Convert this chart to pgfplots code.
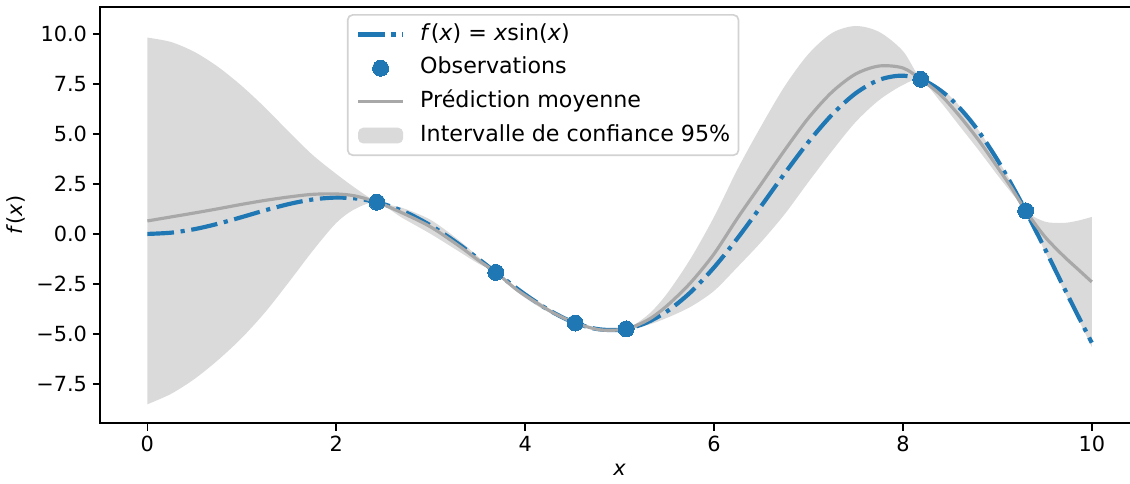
\documentclass[border=0pt]{standalone}
\usepackage{fontspec}
\setmainfont{DejaVu Sans}
\usepackage{pgfplots}
\pgfplotsset{compat=1.18}
\usepackage{pgfplotstable}
\usepgfplotslibrary{fillbetween}

\definecolor{tabblue}{RGB}{31,119,180}
\definecolor{meangray}{RGB}{168,168,168}
\definecolor{bandgray}{RGB}{218,218,218}
\definecolor{legframe}{RGB}{210,210,210}

\pgfplotsset{
    lineleg/.style={legend image code/.code={\draw[##1] (0pt,0pt) -- (27pt,0pt);}},
    markleg/.style={legend image code/.code={\draw[##1] plot coordinates {(13.5pt,0pt)};}},
    arealeg/.style={legend image code/.code={\fill[##1] (0pt,-4.7pt) rectangle (27pt,4.7pt);}},
}

% GP prediction: mean and 95% band
\pgfplotstableread{
x     mean   lo     hi
0.00  0.65  -8.52   9.82
0.25  0.85  -8.00   9.60
0.50  1.05  -7.25   9.10
0.75  1.26  -6.30   8.35
1.00  1.48  -5.20   7.40
1.25  1.68  -3.90   6.30
1.50  1.85  -2.40   5.10
1.75  1.98  -0.85   3.95
2.00  2.00   0.55   3.00
2.20  1.90   1.25   2.30
2.43  1.59   1.57   1.61
2.70  1.05   0.80   1.30
3.00  0.35   0.00   0.70
3.30 -0.60  -0.88  -0.32
3.50 -1.30  -1.47  -1.13
3.69 -1.92  -1.94  -1.90
3.90 -2.75  -2.85  -2.65
4.10 -3.38  -3.51  -3.25
4.30 -3.95  -4.04  -3.86
4.53 -4.45  -4.47  -4.43
4.80 -4.80  -4.85  -4.75
5.07 -4.75  -4.77  -4.73
5.30 -4.30  -4.55  -4.05
5.50 -3.60  -4.20  -3.00
5.75 -2.45  -3.65  -1.25
6.00 -1.00  -2.85   0.85
6.25  0.80  -1.65   3.25
6.50  2.50  -0.40   5.40
6.75  4.20   1.00   7.40
7.00  5.80   2.60   9.00
7.25  7.10   4.15  10.05
7.50  8.00   5.60  10.40
7.75  8.40   6.70  10.10
8.00  8.30   7.45   9.15
8.19  7.73   7.71   7.75
8.40  6.95   6.60   7.30
8.60  5.90   5.40   6.40
8.80  4.70   4.20   5.20
9.00  3.35   2.95   3.75
9.15  2.30   2.05   2.55
9.30  1.16   1.14   1.18
9.50 -0.12  -0.85   0.62
9.70 -1.10  -2.80   0.55
9.85 -1.75  -4.20   0.66
10.00 -2.40 -5.65   0.85
}\gp

% f(x) = x sin(x)
\pgfplotstableread{
x     f
0     0
0.25  0.0619
0.5   0.2397
0.75  0.5112
1     0.8415
1.25  1.1862
1.5   1.4962
1.75  1.7220
2     1.8186
2.25  1.7507
2.5   1.4962
2.75  1.0496
3     0.4234
3.25 -0.3517
3.5  -1.2277
3.75 -2.1434
4    -3.0272
4.25 -3.8037
4.5  -4.3989
4.75 -4.7466
5    -4.7946
5.25 -4.5094
5.5  -3.8805
5.75 -2.9248
6    -1.6765
6.25 -0.2074
6.5   1.3983
6.75  3.0378
7     4.5989
7.25  5.9673
7.5   7.0350
7.75  7.7085
8     7.9149
8.25  7.6100
8.5   6.7872
8.75  5.4660
9     3.7091
9.25  1.6090
9.5  -0.7140
9.75 -3.1150
10   -5.4402
}\truef

\pgfplotstableread{
x     y
2.43  1.588
3.69 -1.924
4.53 -4.455
5.07 -4.749
8.19  7.733
9.30  1.158
}\obs

\begin{document}
\begin{tikzpicture}[font=\fontsize{12.5}{15}\selectfont]
\begin{axis}[
    scale only axis,
    width=623.4pt, height=249.8pt,
    xmin=-0.5, xmax=10.5,
    ymin=-9.47, ymax=11.35,
    axis line style={line width=1pt},
    tick style={line width=1pt, black},
    tick align=outside,
    xtick pos=bottom, ytick pos=left,
    major tick length=4.4pt,
    xtick={0,2,4,6,8,10},
    xticklabels={0,2,4,6,8,10},
    ytick={-7.5,-5,-2.5,0,2.5,5,7.5,10},
    yticklabels={−7.5,−5.0,−2.5,0.0,2.5,5.0,7.5,10.0},
    xlabel={\textit{x}},
    ylabel={\textit{f}(\textit{x})},
    legend cell align=left,
    legend style={at={(0.2375,0.983)}, anchor=north west,
        draw=legframe, line width=1pt, rounded corners=3pt,
        font=\fontsize{13.3}{16}\selectfont,
        inner xsep=5pt, inner ysep=5.5pt, row sep=7.6pt,
        nodes={inner sep=0pt, text height=9.6pt, text depth=3pt},
        /tikz/every odd column/.append style={column sep=9pt}},
]
% band
\addplot[draw=none, smooth, name path=hi, forget plot] table[x=x, y=hi] {\gp};
\addplot[draw=none, smooth, name path=lo, forget plot] table[x=x, y=lo] {\gp};
\addplot[fill=bandgray, draw=none, forget plot] fill between[of=hi and lo];

% true function
\addplot[tabblue, line width=2.5pt, smooth, dash pattern=on 16pt off 4pt on 2.5pt off 4pt, forget plot]
    table[x=x, y=f] {\truef};
% mean prediction
\addplot[meangray, line width=1.9pt, smooth, forget plot] table[x=x, y=mean] {\gp};
% observations
\addplot[tabblue, only marks, mark=*, mark size=4.8pt, mark options={draw=tabblue, fill=tabblue, line width=0pt}, forget plot]
    table[x=x, y=y] {\obs};

\addlegendimage{tabblue, line width=2.5pt, dash pattern=on 16pt off 4pt on 2.5pt off 4pt, lineleg}
\addlegendentry{\textit{f}(\textit{x}) = \textit{x}sin(\textit{x})}
\addlegendimage{tabblue, only marks, mark=*, mark size=4.8pt, mark options={draw=tabblue, fill=tabblue, line width=0pt}, markleg}
\addlegendentry{Observations}
\addlegendimage{meangray, line width=1.9pt, lineleg}
\addlegendentry{Prédiction moyenne}
\addlegendimage{fill=bandgray, draw=none, arealeg}
\addlegendentry{Intervalle de confiance 95\%}
\end{axis}
% the figure is cut just inside the right spine
\pgfresetboundingbox
\path ([shift={(-60.1pt,-36.4pt)}]current axis.south west)
    rectangle ([shift={(-5.4pt,4.2pt)}]current axis.north east);
\end{tikzpicture}
\end{document}
